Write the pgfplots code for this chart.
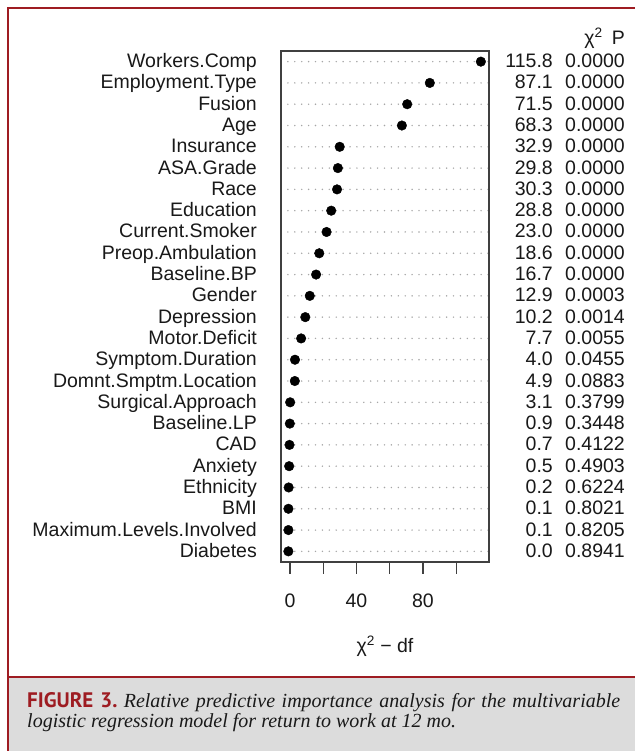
\documentclass[border=0pt]{standalone}
\usepackage{pgfplots}
\pgfplotsset{compat=1.18}
\usepackage{pgfplotstable}
\usepackage{fontspec}
\setmainfont{Liberation Sans}
\newfontfamily\capsans{PT Sans}
\newfontfamily\capserif{Liberation Serif}
\definecolor{figred}{RGB}{158,28,34}
\definecolor{capgrey}{RGB}{220,220,220}
\definecolor{txt}{RGB}{25,25,25}

\pgfplotstableread{
row val
1 -0.98
2 -0.95
3 -0.94
4 -0.80
5 -0.50
6 -0.30
7 -0.10
8 0.10
9 2.90
10 3.00
11 6.70
12 9.20
13 11.90
14 15.70
15 17.60
16 22.00
17 24.80
18 28.30
19 28.80
20 29.90
21 67.30
22 70.50
23 84.10
24 114.80
}\data

\begin{document}
\begin{tikzpicture}[x=1pt,y=1pt]
\path[use as bounding box] (0,0) rectangle (635,751);
\fill[white] (0,0) rectangle (635,751);
\fill[capgrey] (8,0) rectangle (635,74);
\draw[figred, line width=1.5pt] (8,74) -- (635,74);
\draw[figred, line width=2.6pt] (8,0) -- (8,743) -- (635,743);

\begin{axis}[
  at={(281pt,189pt)}, anchor=south west,
  scale only axis, width=208pt, height=511pt,
  xmin=-5.41, xmax=119.7, ymin=0.5, ymax=24.5,
  clip=false,
  axis line style={black!75, line width=1.2pt},
  xtick={0,20,40,60,80,100},
  xticklabels={0,,40,,80,},
  xtick pos=bottom,
  tick align=outside,
  major tick length=12pt,
  x tick style={black!75, line width=1.2pt},
  xticklabel style={font=\fontsize{19.5}{20}\selectfont, text=txt, inner sep=0pt, text height=14pt, text depth=0pt, anchor=north, yshift=-19pt},
  ytick={1,...,24},
  yticklabels={Diabetes, Maximum.Levels.Involved, BMI, Ethnicity, Anxiety, CAD, Baseline.LP, Surgical.Approach, Domnt.Smptm.Location, Symptom.Duration, Motor.Deficit, Depression, Gender, Baseline.BP, Preop.Ambulation, Current.Smoker, Education, Race, ASA.Grade, Insurance, Age, Fusion, Employment.Type, Workers.Comp},
  y tick style={draw=none},
  yticklabel style={font=\fontsize{19.5}{20}\selectfont, text=txt, inner sep=0pt, text height=14pt, text depth=0pt, anchor=east, xshift=-12pt, yshift=1pt},
  ymajorgrids=true,
  y grid style={black!35, line width=1.6pt, line cap=round, dash pattern=on 0pt off 6.9pt},
  xlabel={χ\textsuperscript{2} − df},
  xlabel style={font=\fontsize{19.5}{20}\selectfont, text=txt, at={(axis description cs:0.5,0)}, anchor=base, yshift=-91pt},
]
\addplot[only marks, mark=*, mark size=4.8pt, black] table[x=val, y=row] {\data};

\begin{scope}[every node/.style={font=\fontsize{19.5}{20}\selectfont, text=txt, inner sep=0pt, text height=14pt, text depth=0pt, anchor=east, yshift=1pt}]
\node at (axis cs:158.2,24) {115.8}; \node at (axis cs:201.5,24) {0.0000};
\node at (axis cs:158.2,23) {87.1};  \node at (axis cs:201.5,23) {0.0000};
\node at (axis cs:158.2,22) {71.5};  \node at (axis cs:201.5,22) {0.0000};
\node at (axis cs:158.2,21) {68.3};  \node at (axis cs:201.5,21) {0.0000};
\node at (axis cs:158.2,20) {32.9};  \node at (axis cs:201.5,20) {0.0000};
\node at (axis cs:158.2,19) {29.8};  \node at (axis cs:201.5,19) {0.0000};
\node at (axis cs:158.2,18) {30.3};  \node at (axis cs:201.5,18) {0.0000};
\node at (axis cs:158.2,17) {28.8};  \node at (axis cs:201.5,17) {0.0000};
\node at (axis cs:158.2,16) {23.0};  \node at (axis cs:201.5,16) {0.0000};
\node at (axis cs:158.2,15) {18.6};  \node at (axis cs:201.5,15) {0.0000};
\node at (axis cs:158.2,14) {16.7};  \node at (axis cs:201.5,14) {0.0000};
\node at (axis cs:158.2,13) {12.9};  \node at (axis cs:201.5,13) {0.0003};
\node at (axis cs:158.2,12) {10.2};  \node at (axis cs:201.5,12) {0.0014};
\node at (axis cs:158.2,11) {7.7};   \node at (axis cs:201.5,11) {0.0055};
\node at (axis cs:158.2,10) {4.0};   \node at (axis cs:201.5,10) {0.0455};
\node at (axis cs:158.2,9) {4.9};    \node at (axis cs:201.5,9) {0.0883};
\node at (axis cs:158.2,8) {3.1};    \node at (axis cs:201.5,8) {0.3799};
\node at (axis cs:158.2,7) {0.9};    \node at (axis cs:201.5,7) {0.3448};
\node at (axis cs:158.2,6) {0.7};    \node at (axis cs:201.5,6) {0.4122};
\node at (axis cs:158.2,5) {0.5};    \node at (axis cs:201.5,5) {0.4903};
\node at (axis cs:158.2,4) {0.2};    \node at (axis cs:201.5,4) {0.6224};
\node at (axis cs:158.2,3) {0.1};    \node at (axis cs:201.5,3) {0.8021};
\node at (axis cs:158.2,2) {0.1};    \node at (axis cs:201.5,2) {0.8205};
\node at (axis cs:158.2,1) {0.0};    \node at (axis cs:201.5,1) {0.8941};
\end{scope}
\end{axis}

\node[anchor=base east, inner sep=0pt, text=txt, font=\fontsize{19.5}{20}\selectfont] at (625,706) {χ\textsuperscript{2}\hspace{9pt}P};

\node[anchor=base west, inner sep=0pt, text=txt] at (27,43) {\makebox[593pt][s]{{\capsans\bfseries\fontsize{21}{21}\selectfont\color{figred}FIGURE 3.} \capserif\itshape\fontsize{20}{20}\selectfont Relative predictive importance analysis for the multivariable}};
\node[anchor=base west, inner sep=0pt, text=txt] at (27,23) {\capserif\itshape\fontsize{20}{20}\selectfont logistic regression model for return to work at 12 mo.};
\end{tikzpicture}
\end{document}
